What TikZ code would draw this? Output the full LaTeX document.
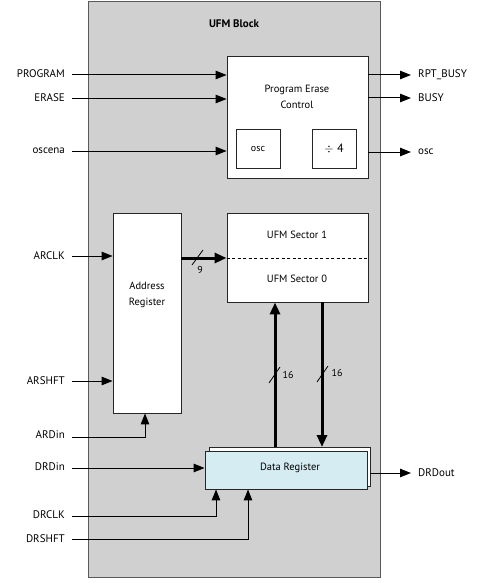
\documentclass[tikz,border=0pt]{standalone}
\usepackage{fontspec}
\setmainfont{PT Sans}
\usetikzlibrary{arrows.meta}
\definecolor{blockgray}{HTML}{D0D0D0}
\definecolor{dregfill}{HTML}{D6ECF3}
\begin{document}
\begin{tikzpicture}[x=1pt,y=-1pt,
  sig/.style={line width=1pt,-{Triangle[length=11pt,width=8.5pt]}},
  bus/.style={line width=3pt,-{Triangle[length=12pt,width=10pt]}},
  wbox/.style={draw=black!85,line width=0.9pt,fill=white},
  lbl/.style={font=\fontsize{11}{12}\selectfont,inner sep=0pt},
  btxt/.style={font=\fontsize{10.5}{16}\selectfont,align=center,inner sep=0pt}]
\useasboundingbox (0,0) rectangle (483,583);
% outer block
\draw[fill=blockgray,draw=black!65,line width=1pt] (88,2) rectangle (380,577);
\node[btxt,font=\fontsize{11}{13}\selectfont\bfseries] (title) at (234,24) {UFM Block};
% Program Erase Control
\node[wbox,minimum width=141pt,minimum height=122pt] (pecbox) at (297.5,117) {};
\node[btxt] (pec) at (297,97) {Program Erase\\Control};
\node[wbox,minimum width=44pt,minimum height=39pt,font=\fontsize{10}{12}\selectfont] (oscb) at (258,148.5) {osc};
\node[wbox,minimum width=44pt,minimum height=39pt,font=\fontsize{12}{12}\selectfont] (div) at (334,148.5) {$\div$ 4};
% inputs
\node[lbl,anchor=east] (program) at (65,74) {PROGRAM};
\node[lbl,anchor=east] (erase) at (65,98) {ERASE};
\node[lbl,anchor=east] (oscena) at (65,151) {oscena};
\draw[sig] (72,75) -- (pecbox.west |- 0,75);
\draw[sig] (72,99) -- (pecbox.west |- 0,99);
\draw[sig] (72,151) -- (pecbox.west |- 0,151);
% outputs
\node[lbl,anchor=west] (rpt) at (418,75) {RPT\_BUSY};
\node[lbl,anchor=west] (busy) at (418,98) {BUSY};
\node[lbl,anchor=west] (osco) at (418,152) {osc};
\draw[sig] (pecbox.east |- 0,75) -- (411,75);
\draw[sig] (pecbox.east |- 0,98) -- (411,98);
\draw[sig] (pecbox.east |- 0,152) -- (411,152);
% Address register
\node[wbox,minimum width=68pt,minimum height=200pt] (addr) at (147,313) {};
\node[btxt] (addrtxt) at (147,295) {Address\\Register};
% UFM sectors
\node[wbox,minimum width=141pt,minimum height=89pt] (ufm) at (297.5,257.5) {};
\draw[line width=0.7pt,dash pattern=on 3pt off 2.5pt] (ufm.west |- 0,258) -- (ufm.east |- 0,258);
\node[btxt] (s1) at (297,235) {UFM Sector 1};
\node[btxt] (s0) at (297,279) {UFM Sector 0};
% address bus
\draw[bus] (addr.east |- 0,258) -- (ufm.west |- 0,258);
\draw[line width=0.8pt] (192,265) -- (203,250);
\node[lbl,font=\fontsize{10}{12}\selectfont] (n9) at (200,270) {9};
% address inputs
\node[lbl,anchor=east] (arclk) at (65,256) {ARCLK};
\node[lbl,anchor=east] (arshft) at (65,381) {ARSHFT};
\node[lbl,anchor=east] (ardin) at (65,435) {ARDin};
\draw[sig] (72,256) -- (addr.west |- 0,256);
\draw[sig] (72,381) -- (addr.west |- 0,381);
\draw[sig] (72,437) -| (addr.south -| 145,0);
% Data register
\draw[wbox] (209,447) rectangle (370,486);
\node[draw=black!85,line width=0.9pt,fill=dregfill,minimum width=162pt,minimum height=38pt] (dregbox) at (286,470) {};
\node[btxt] (dreg) at (290,468) {Data Register};
\coordinate (dregTop) at (275,447);
\coordinate (dregTop2) at (322,447);
% vertical buses
\draw[bus] (dregTop) -- (ufm.south -| dregTop);
\draw[bus] (ufm.south -| dregTop2) -- (dregTop2);
\draw[line width=0.8pt] (269,383) -- (280,367);
\draw[line width=0.8pt] (317,382) -- (328,366);
\node[lbl,font=\fontsize{10}{12}\selectfont] (n16a) at (288,375) {16};
\node[lbl,font=\fontsize{10}{12}\selectfont] (n16b) at (337,373) {16};
% data inputs
\node[lbl,anchor=east] (drdin) at (65,467) {DRDin};
\node[lbl,anchor=east] (drclk) at (65,515) {DRCLK};
\node[lbl,anchor=east] (drshft) at (65,539) {DRSHFT};
\draw[sig] (72,468) -- (dregbox.west |- 0,468);
\draw[sig] (72,516) -| (dregbox.south -| 216,0);
\draw[sig] (72,539) -| (dregbox.south -| 248,0);
% output
\node[lbl,anchor=west] (drdout) at (418,473) {DRDout};
\draw[sig] (370,473) -- (411,473);
\end{tikzpicture}
\end{document}
